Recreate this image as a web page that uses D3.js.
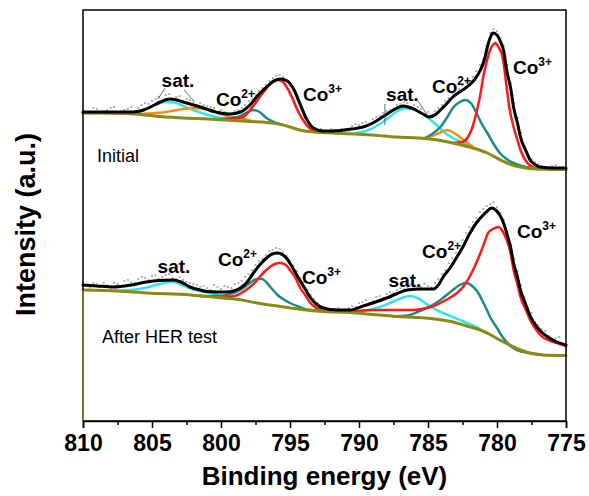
<!DOCTYPE html>
<html>
<head>
<meta charset="utf-8">
<script src="https://cdn.jsdelivr.net/npm/d3@7"></script>
<style>
    body { margin: 0; background: #fff; }
    text { font-family: Arial, "Liberation Sans", sans-serif; }
</style>
</head>
<body>
<svg id="chart"></svg>
<script>
var majorTicks = [810, 805, 800, 795, 790, 785, 780, 775];
var minorTicks = [807.5, 802.5, 797.5, 792.5, 787.5, 782.5, 777.5];

// raw counts, one value every 0.25 eV from 810 down to 775 (8 values per 2 eV row)
var rawStep = 0.25;
var initialRaw = [
    311,308,307,313,312,309,310,311,
    313,314,308,310,311,312,314,309,
    313,316,318,317,320,322,324,320,
    326,327,321,324,325,320,322,321,
    319,316,318,316,315,314,313,309,
    311,309,305,307,310,311,313,316,
    320,322,326,330,333,336,340,343,
    345,346,344,341,335,330,322,316,
    306,300,294,291,289,292,288,289,
    292,291,287,292,289,290,295,297,
    296,298,299,297,302,304,305,308,
    310,311,312,316,317,319,318,314,
    316,314,312,307,309,306,310,313,
    316,320,323,328,331,332,336,339,
    340,344,350,356,362,375,388,392,
    390,383,375,356,338,318,303,288,
    275,266,262,259,257,255,252,251,
    255,256,251,252,254];
var afterRaw = [
    138,135,133,138,137,134,138,136,
    132,138,137,135,140,141,139,138,
    142,144,143,141,145,146,142,144,
    146,147,143,142,144,141,139,138,
    137,136,134,135,133,131,136,134,
    132,135,134,133,137,138,140,144,
    147,151,156,160,162,166,170,171,
    173,172,169,165,160,155,150,143,
    139,131,126,122,118,113,114,111,
    109,112,113,108,110,113,115,114,
    118,119,121,118,120,124,125,123,
    127,129,128,131,133,132,134,137,
    136,135,134,137,135,134,138,142,
    147,151,158,163,168,175,181,188,
    194,199,203,209,212,215,217,219,
    214,208,201,190,176,162,150,136,
    124,113,108,99,96,92,90,85,
    79,83,84,77,74];

// fitted curves, [binding energy, intensity]
var initialEnvelope = [[810,309],[806.4,309],[805.6,311],[805.1,314],[804.4,319],[803.7,322],[803.2,321],[802.75,319],
    [801.5,314],[800.4,309],[799.35,307],[798.6,309],[797.9,316],[797.3,326],[796.7,334],[796.2,340],[795.7,342],
    [795.2,340],[794.7,331],[794.3,318],[793.8,302],[793.3,293],[792.6,290],[791.9,290],[790.5,292],[789.7,294],
    [789,298],[788.3,304],[787.5,311],[786.8,315],[786.2,313],[785.5,308],[784.9,304],[784.4,307],[784.1,311],
    [783.6,318],[783.2,324],[782.6,330],[782,336],[781.6,342],[781.2,351],[780.9,362],[780.7,374],[780.5,383],
    [780.3,388],[780,386],[779.8,381],[779.5,369],[779.3,351],[779,332],[778.8,314],[778.5,297],[778.3,284],
    [777.9,270],[777.6,261],[777.2,256],[776.9,254],[775.9,253],[775,253]];
var initialBackground = [[810,308],[806.9,307.5],[804,304],[800.4,301.5],[797.9,299.5],[796.7,298.5],[795.8,297],
    [795,294],[794.3,291],[793.3,289],[791.9,288],[789,286],[787.3,284],[785.6,283],[784.3,281],[783.2,278],
    [782,274],[780.7,268],[779.6,260],[778.9,256],[778.3,254],[777.1,252],[775,251.5]];
var initialSatA = [[806.8,307.5],[806,309],[805.3,313],[804.6,317],[804,319],[803.4,318.5],[802.75,315],[802,311],
    [801.3,307.5],[800.5,304.5],[799.6,302]];
var initialSatB = [[806.6,307],[805.3,307.5],[804,309],[803,311.5],[802,313],[801.4,312.5],[800.8,311],[800.1,307.5],
    [799.6,305],[798.6,303],[797.8,300]];
var initialCo2A = [[800,302],[798.8,304],[798.2,308],[797.7,311],[797.2,309],[796.7,303],[796.2,299],[795.5,296]];
var initialCo3A = [[799.5,302],[798.6,303],[798.2,306],[797.9,311],[797.5,318],[797.2,324],[796.8,331],[796.5,336],
    [796.1,340],[795.9,341],[795.6,340],[795.2,333],[794.8,322],[794.5,312],[794.1,302],[793.6,293],[793,289]];
var initialSatC = [[790.2,288],[789.3,291],[788.5,297],[787.8,304],[787.2,310],[786.7,312.5],[786.1,312],[785.5,308],
    [784.9,302],[784.3,295],[783.8,288.5],[783.2,283],[782.6,279],[782,275]];
var initialSatD = [[785.2,283],[784.7,285],[784.2,288],[783.6,291],[783.1,288],[782.7,284],[782.2,278.5],[781.8,275]];
var initialCo2B = [[785.2,283],[784.7,287],[784.1,294],[783.6,304],[783.2,313],[782.7,319],[782.3,321],[781.9,318],
    [781.45,307],[781.1,297],[780.7,288],[780.2,276],[779.8,268],[779.3,262],[778.8,258],[778.2,255],[777.5,253],[777.1,252]];
var initialCo3B = [[783.2,278],[782.5,279],[782.1,284],[781.8,293],[781.45,311],[781.2,327],[781,344],[780.7,362],
    [780.5,371],[780.3,376],[780.1,378],[779.9,374],[779.6,364],[779.3,334],[779.1,313],[778.8,294],[778.5,280],
    [778.3,271],[777.8,258],[777.4,254],[777,252]];

var afterEnvelope = [[810,136],[809,135],[807.8,134],[806.5,136],[805.4,139],[804.5,140.5],[803.5,141],[802.9,139],
    [802.25,134],[801.5,131],[801,129.5],[799.6,129],[798.6,133],[798.1,139],[797.7,147],[797.2,156],[796.7,163],
    [796.3,167],[795.9,168],[795.5,166],[795.2,162],[794.8,153],[794.3,141],[793.9,132],[793.55,124],[793.1,117],
    [792.6,113],[791.6,111],[790.65,111],[789.7,115],[788.8,119],[788,123],[787.3,127],[786.5,131],[785.6,132],
    [784.6,132],[784.2,137],[783.9,144],[783.4,153],[782.9,164],[782.4,176],[782,187],[781.5,198],[781,206],
    [780.7,210],[780.4,213],[780.1,211],[779.8,206],[779.5,197],[779.3,188],[779,173],[778.8,158],[778.5,143],
    [778.3,131],[777.9,116],[777.6,105],[777.1,94],[776.7,88],[776.2,83],[775.65,79],[775,76]];
var afterBackground = [[810,131],[807.5,130],[805.4,128],[802.2,126],[799.9,123],[798.5,121],[797.4,118],[796.2,115.5],
    [795,113],[793.8,111],[792.6,109.5],[790.65,108.5],[789,106.5],[787.25,104.5],[785.6,103.5],[784.5,102],
    [783.2,99],[782.2,95],[781.2,91],[780.5,86.5],[779.8,81],[779,75.5],[778.3,71],[777.5,67.5],[776.7,66],[775,65.5]];
var afterSatA = [[807.8,130],[806.5,131],[805.5,133],[804.6,136.5],[804,138.5],[803.5,139],[803,137],[802.5,134],
    [802,131.5],[801,128.5],[800,125.5],[799.2,123]];
var afterCo2A = [[801.2,125],[800.2,125],[799.3,127],[798.6,131],[798.1,136],[797.7,140],[797.3,142.5],[797,142],
    [796.7,138.5],[796.3,132],[795.9,126],[795.4,121],[795,118],[794.4,114.5],[793.8,111.5],[793.2,110.5]];
var afterCo3A = [[801.5,125],[800,124],[799.2,124.5],[798.8,126],[798.4,129],[797.9,134],[797.5,139],[797.2,144],
    [796.8,150],[796.45,154],[796.1,157],[795.7,158],[795.3,156],[795,151],[794.6,143],[794.3,134],[793.9,126],
    [793.55,118.5],[793.2,114],[792.8,111],[792.3,109.5],[791.5,109]];
var afterSatC = [[790.6,109],[789.5,110.5],[788.5,114],[787.6,119],[786.9,123],[786.3,125],[785.7,122.5],[785.1,117],
    [784.6,112.5],[783.9,108],[783.2,104],[782.5,100],[782,97],[781.3,92.5]];
var afterCo2B = [[787.5,104.5],[786.5,105.5],[785.6,110],[785.1,113],[784.6,116.5],[784.1,121],[783.6,126.5],
    [783.2,131],[782.7,136],[782.2,138],[781.8,135],[781.4,129],[781.2,124],[780.8,113],[780.5,104],[780,93],
    [779.6,84],[779.1,76],[778.55,71],[777.6,68],[776.8,66.5]];
var afterCo3B = [[790.8,109],[789,111],[787.5,111],[786.1,111],[785.1,113],[784.5,115.5],[784.1,118],[783.5,122.5],
    [782.9,128],[782.4,135],[782,144],[781.6,155],[781.2,168],[780.9,179],[780.65,188],[780.3,192],[779.9,194],
    [779.6,190],[779.3,181],[779,167],[778.8,151],[778.5,136],[778.3,124],[777.9,111],[777.6,101],[777.1,90],
    [776.7,84],[776.2,80.5],[775.65,78],[775,75]];

// peak annotations, placed in data coordinates
var peakLabels = [
    {text: 'sat.', e: 803.12, i: 334, anchor: 'middle'},
    {text: 'Co', sup: '2+', e: 800.36, i: 315},
    {text: 'Co', sup: '3+', e: 794.06, i: 320},
    {text: 'sat.', e: 786.85, i: 320, anchor: 'middle'},
    {text: 'Co', sup: '2+', e: 784.71, i: 328},
    {text: 'Co', sup: '3+', e: 778.84, i: 347},
    {text: 'sat.', e: 803.41, i: 148, anchor: 'middle'},
    {text: 'Co', sup: '2+', e: 800.22, i: 155},
    {text: 'Co', sup: '3+', e: 794.13, i: 137},
    {text: 'sat.', e: 786.67, i: 134, anchor: 'middle'},
    {text: 'Co', sup: '2+', e: 785.43, i: 163},
    {text: 'Co', sup: '3+', e: 778.55, i: 183}
];
var leaderLines = [
    [[804.06,333],[804.57,322]], [[802.68,331],[801.96,320]],
    [[788.12,317],[788.12,296]], [[785.72,320],[785.0,305]]
];
var sampleLabels = [
    {text: 'Initial', e: 808.99, i: 259},
    {text: 'After HER test', e: 808.62, i: 78}
];

var width = 589;
var height = 496;

var svg = d3.select('#chart')
    .attr('width', width)
    .attr('height', height);

var x = d3.scaleLinear()
    .domain([810, 775])
    .range([83, 566]);

var y = d3.scaleLinear()
    .domain([0, 411])
    .range([421, 10]);

var line = d3.line()
    .x(function(d) { return x(d[0]); })
    .y(function(d) { return y(d[1]); })
    .curve(d3.curveMonotoneX);

var plot = svg.append('g');

// raw data dots
function drawRaw(values) {
    plot.append('g')
        .selectAll('rect')
        .data(values)
        .enter().append('rect')
        .attr('x', function(d, k) { return x(810 - k * rawStep) - 1; })
        .attr('y', function(d) { return y(d) - 1; })
        .attr('width', 2)
        .attr('height', 2)
        .attr('fill', '#b4b4b4');
}
drawRaw(initialRaw);
drawRaw(afterRaw);

function drawCurve(pts, color, w) {
    plot.append('path')
        .datum(pts)
        .attr('d', line)
        .attr('fill', 'none')
        .attr('stroke', color)
        .attr('stroke-width', w)
        .attr('stroke-linejoin', 'round')
        .attr('stroke-linecap', 'round');
}

var cyan = '#2ee6f0', orange = '#ff8c1a', teal = '#1a8a8a', red = '#ff1a1a', olive = '#8a8a14';

drawCurve(initialSatA, cyan, 2.5);
drawCurve(initialSatB, orange, 2.5);
drawCurve(initialSatC, cyan, 2.5);
drawCurve(initialSatD, orange, 2.5);
drawCurve(initialCo2A, teal, 2.5);
drawCurve(initialCo2B, teal, 2.5);
drawCurve(initialCo3A, red, 2.5);
drawCurve(initialCo3B, red, 2.5);

drawCurve(afterSatA, cyan, 2.5);
drawCurve(afterSatC, cyan, 2.5);
drawCurve(afterCo2A, teal, 2.5);
drawCurve(afterCo2B, teal, 2.5);
drawCurve(afterCo3A, red, 2.5);
drawCurve(afterCo3B, red, 2.5);

drawCurve(initialBackground, olive, 3);
drawCurve(afterBackground, olive, 3);

drawCurve(initialEnvelope, '#000', 3);
drawCurve(afterEnvelope, '#000', 3);

// frame
svg.append('rect')
    .attr('x', x(810))
    .attr('y', y(411))
    .attr('width', x(775) - x(810))
    .attr('height', y(0) - y(411))
    .attr('fill', 'none')
    .attr('stroke', '#000')
    .attr('stroke-width', 1.5);

// the lower background runs down the left axis
svg.append('line')
    .attr('x1', x(810)).attr('x2', x(810))
    .attr('y1', y(afterBackground[0][1])).attr('y2', y(0))
    .attr('stroke', olive)
    .attr('stroke-width', 1.5);

var xAxis = svg.append('g')
    .attr('transform', 'translate(0,' + y(0) + ')')
    .call(d3.axisBottom(x)
        .tickValues(majorTicks)
        .tickSize(7)
        .tickPadding(7)
        .tickFormat(d3.format('d')));
xAxis.select('.domain').attr('stroke-width', 1.5);
xAxis.selectAll('.tick line').attr('stroke-width', 1.5);
xAxis.selectAll('.tick text')
    .attr('font-size', 23)
    .attr('font-weight', 'bold')
    .attr('font-family', 'Arial, "Liberation Sans", sans-serif');

svg.append('g')
    .attr('transform', 'translate(0,' + y(0) + ')')
    .call(d3.axisBottom(x)
        .tickValues(minorTicks)
        .tickSize(4)
        .tickFormat(''))
    .call(function(g) { g.select('.domain').remove(); })
    .selectAll('.tick line').attr('stroke-width', 1.5);

svg.append('text')
    .attr('x', (x(810) + x(775)) / 2)
    .attr('y', 485)
    .attr('text-anchor', 'middle')
    .attr('font-size', 26)
    .attr('font-weight', 'bold')
    .text('Binding energy (eV)');

svg.append('text')
    .attr('transform', 'translate(35,' + ((y(0) + y(411)) / 2 + 9) + ') rotate(-90)')
    .attr('text-anchor', 'middle')
    .attr('font-size', 27)
    .attr('font-weight', 'bold')
    .text('Intensity (a.u.)');

// leader lines for satellite labels
svg.append('g')
    .selectAll('path')
    .data(leaderLines)
    .enter().append('path')
    .attr('d', d3.line().x(function(d) { return x(d[0]); }).y(function(d) { return y(d[1]); }))
    .attr('stroke', '#444')
    .attr('stroke-width', 0.8)
    .attr('fill', 'none');

var labels = svg.append('g')
    .selectAll('text')
    .data(peakLabels)
    .enter().append('text')
    .attr('x', function(d) { return x(d.e); })
    .attr('y', function(d) { return y(d.i); })
    .attr('text-anchor', function(d) { return d.anchor || 'start'; })
    .attr('font-size', 19)
    .attr('font-weight', 'bold');
labels.append('tspan').text(function(d) { return d.text; });
labels.filter(function(d) { return d.sup; })
    .append('tspan')
    .attr('dy', -8)
    .attr('font-size', 12)
    .text(function(d) { return d.sup; });

svg.append('g')
    .selectAll('text')
    .data(sampleLabels)
    .enter().append('text')
    .attr('x', function(d) { return x(d.e); })
    .attr('y', function(d) { return y(d.i); })
    .attr('font-size', 18)
    .text(function(d) { return d.text; });
</script>
</body>
</html>
